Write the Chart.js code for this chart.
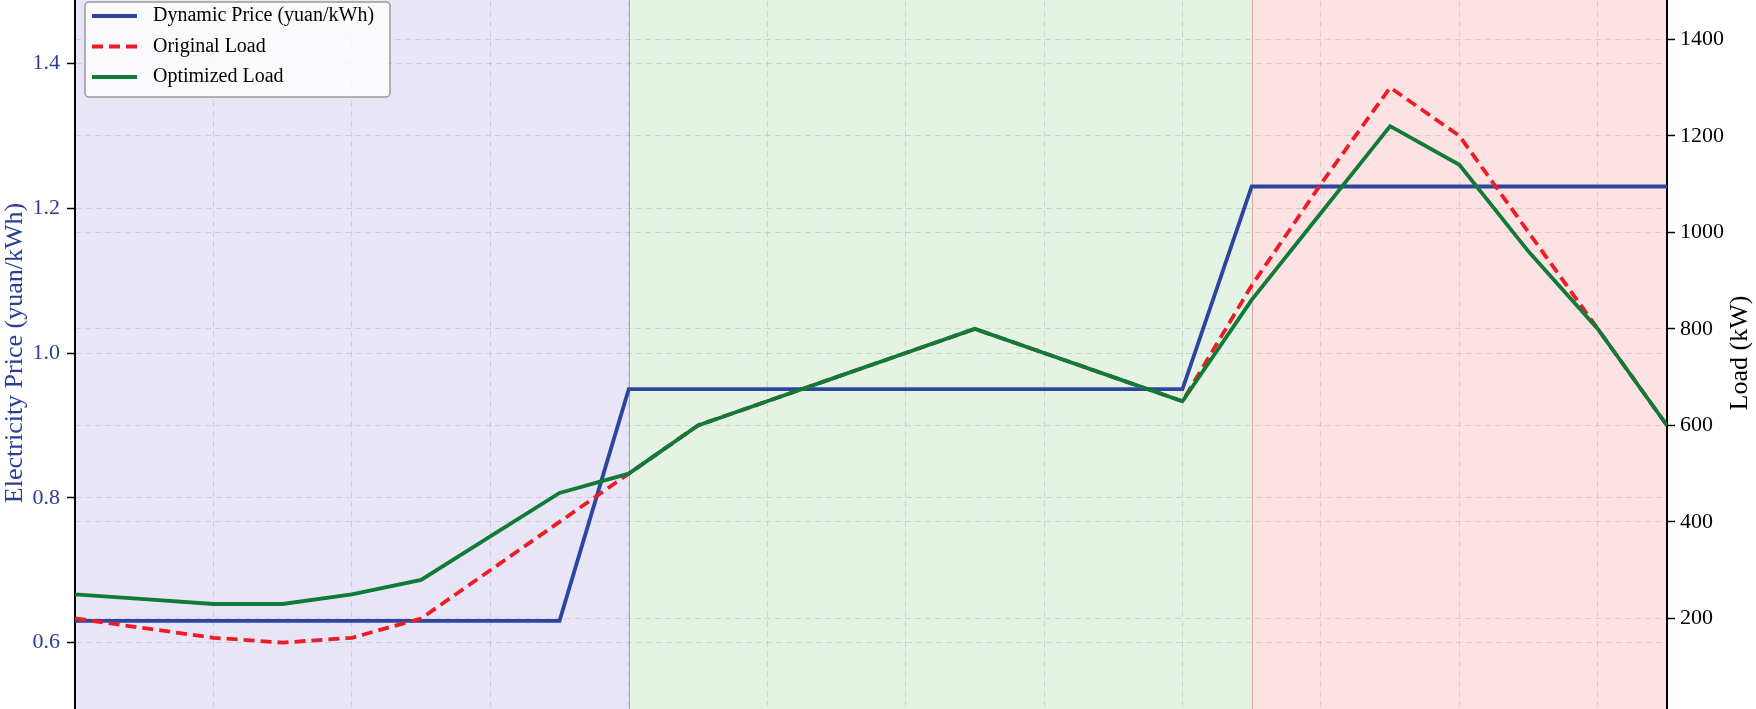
<!DOCTYPE html>
<html>
<head>
<meta charset="utf-8">
<script src="https://cdn.jsdelivr.net/npm/chart.js@4.4.0/dist/chart.umd.min.js"></script>
<style>
  html, body { margin: 0; padding: 0; background: #fff; }
  #frame { position: relative; width: 1756px; height: 709px; overflow: hidden; }
  #grafico { position: absolute; left: 0; top: -9px; }
</style>
</head>
<body>
<div id="frame"><canvas id="grafico" width="1756" height="724"></canvas></div>
<script>
// hourly data (0-23)
const hours = [0, 1, 2, 3, 4, 5, 6, 7, 8, 9, 10, 11, 12, 13, 14, 15, 16, 17, 18, 19, 20, 21, 22, 23];
const price = [0.63, 0.63, 0.63, 0.63, 0.63, 0.63, 0.63, 0.63,
               0.95, 0.95, 0.95, 0.95, 0.95, 0.95, 0.95, 0.95, 0.95,
               1.23, 1.23, 1.23, 1.23, 1.23, 1.23, 1.23];
const originalLoad = [200, 180, 160, 150, 160, 200, 300, 400, 500, 600, 650, 700,
                      750, 800, 750, 700, 650, 890, 1100, 1300, 1200, 1000, 800, 600];
const optimizedLoad = [250, 240, 230, 230, 250, 280, 370, 460, 500, 600, 650, 700,
                       750, 800, 750, 700, 650, 860, 1040, 1220, 1140, 960, 800, 600];
const periodBounds = [0, 8, 17, 23];   // valley / flat / peak
const priceTicks = [0.6, 0.8, 1.0, 1.2, 1.4];
const loadTicks = [200, 400, 600, 800, 1000, 1200, 1400];
const hourTicks = [2, 4, 6, 8, 10, 12, 14, 16, 18, 20, 22];

const serif = "'Liberation Serif', 'Times New Roman', serif";
const navy = '#2b3d96';
const gridColor = 'rgba(150,150,165,0.3)';
const lw = 3.8;

const pts = arr => hours.map((h, i) => ({ x: h, y: arr[i] }));

// no extra padding around the plot, the picture is cropped at the plot edges
const semPadding = w => s => {
  s.width = w;
  s.paddingTop = 0;
  s.paddingBottom = 0;
};

const fundo = {
  id: 'fundo',
  beforeDraw(chart) {
    const { ctx, chartArea: a, scales: { x } } = chart;
    const fills = ['rgba(110,100,200,0.17)', 'rgba(110,190,110,0.18)', 'rgba(245,110,115,0.2)'];
    ctx.save();
    for (let i = 0; i < periodBounds.length - 1; i++) {
      const x0 = x.getPixelForValue(periodBounds[i]);
      const x1 = x.getPixelForValue(periodBounds[i + 1]);
      ctx.fillStyle = fills[i];
      ctx.fillRect(x0, a.top, x1 - x0, a.bottom - a.top);
    }
    const edges = ['rgba(120,140,190,0.7)', 'rgba(200,160,150,0.8)'];
    for (let i = 1; i < periodBounds.length - 1; i++) {
      const px = Math.round(x.getPixelForValue(periodBounds[i])) + 0.5;
      ctx.strokeStyle = edges[i - 1];
      ctx.lineWidth = 1;
      ctx.beginPath();
      ctx.moveTo(px, a.top);
      ctx.lineTo(px, a.bottom);
      ctx.stroke();
    }
    ctx.restore();
  }
};

const legenda = {
  id: 'legenda',
  afterDraw(chart) {
    const { ctx, chartArea: a } = chart;
    const bx = 85, by = 11, bw = 305, bh = 95;
    ctx.save();
    ctx.fillStyle = 'rgba(255,255,255,0.8)';
    ctx.strokeStyle = '#9a9a9a';
    ctx.lineWidth = 1.5;
    ctx.beginPath();
    ctx.roundRect(bx, by, bw, bh, 4);
    ctx.fill();
    ctx.stroke();
    ctx.font = '20px ' + serif;
    ctx.textBaseline = 'middle';
    chart.data.datasets.forEach((ds, i) => {
      const y = by + 14 + i * 30.5;
      ctx.strokeStyle = ds.borderColor;
      ctx.lineWidth = lw;
      ctx.setLineDash(ds.borderDash || []);
      ctx.beginPath();
      ctx.moveTo(92, y);
      ctx.lineTo(137, y);
      ctx.stroke();
      ctx.setLineDash([]);
      ctx.fillStyle = '#000';
      ctx.fillText(ds.label, 153, y);
    });

    // right axis title, read bottom to top like the left one
    ctx.translate(1740, (a.top + a.bottom) / 2);
    ctx.rotate(-Math.PI / 2);
    ctx.font = '26px ' + serif;
    ctx.textAlign = 'center';
    ctx.fillText('Load (kW)', 0, 0);
    ctx.restore();
  }
};

const tickFont = { family: serif, size: 22 };

new Chart(document.getElementById('grafico'), {
  type: 'line',
  data: {
    datasets: [
      {
        label: 'Dynamic Price (yuan/kWh)',
        data: pts(price),
        yAxisID: 'yPrice',
        borderColor: '#2c45a0',
        borderWidth: lw,
        pointRadius: 0,
        order: 3
      },
      {
        label: 'Original Load',
        data: pts(originalLoad),
        yAxisID: 'yLoad',
        borderColor: '#ee1c24',
        borderDash: [11, 6],
        borderWidth: lw,
        pointRadius: 0,
        order: 2
      },
      {
        label: 'Optimized Load',
        data: pts(optimizedLoad),
        yAxisID: 'yLoad',
        borderColor: '#0f7b37',
        borderWidth: lw,
        pointRadius: 0,
        order: 1
      }
    ]
  },
  plugins: [fundo, legenda],
  options: {
    responsive: false,
    animation: false,
    layout: { padding: 0 },
    plugins: {
      legend: { display: false },
      tooltip: { enabled: false }
    },
    scales: {
      x: {
        type: 'linear',
        min: 0,
        max: 23,
        afterBuildTicks: s => { s.ticks = hourTicks.map(v => ({ value: v })); },
        ticks: { display: false },
        grid: { color: gridColor, drawTicks: false },
        border: { display: false, dash: [6, 4] }
      },
      yPrice: {
        position: 'left',
        min: 0.5,
        max: 1.5,
        afterBuildTicks: s => { s.ticks = priceTicks.map(v => ({ value: v })); },
        afterFit: semPadding(75),
        ticks: { color: navy, font: tickFont, padding: 7, callback: v => v.toFixed(1) },
        grid: { color: gridColor, tickColor: '#000', tickLength: 8, tickWidth: 1.5, tickBorderDash: [] },
        border: { color: '#000', width: 2, dash: [6, 4] },
        title: {
          display: true,
          text: 'Electricity Price (yuan/kWh)',
          color: navy,
          font: { family: serif, size: 26 },
          padding: 0
        }
      },
      yLoad: {
        position: 'right',
        min: 0,
        max: 1500,
        afterBuildTicks: s => { s.ticks = loadTicks.map(v => ({ value: v })); },
        afterFit: semPadding(89),
        ticks: { color: '#000', font: tickFont, padding: 5, callback: v => String(v) },
        grid: { color: gridColor, tickColor: '#000', tickLength: 8, tickWidth: 1.5, tickBorderDash: [] },
        border: { color: '#000', width: 2, dash: [6, 4] }
      }
    }
  }
});
</script>
</body>
</html>
